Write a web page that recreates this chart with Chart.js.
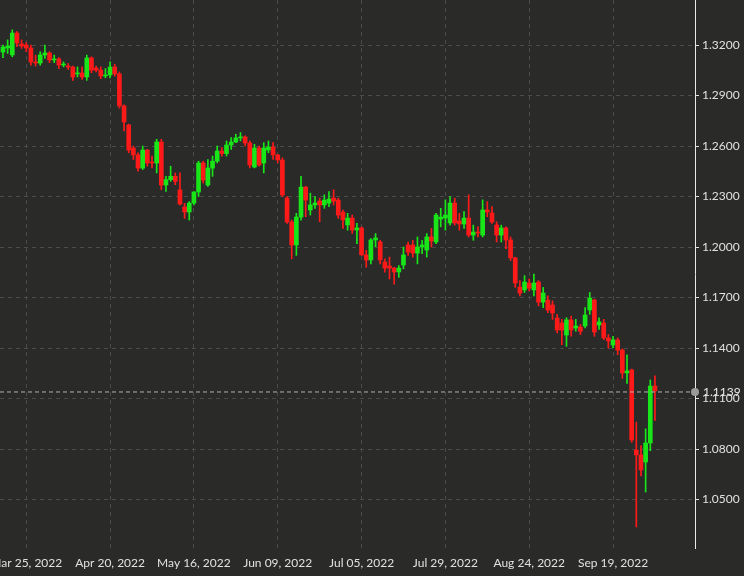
<!DOCTYPE html>
<html>
<head>
<meta charset="utf-8">
<script src="https://cdn.jsdelivr.net/npm/chart.js@4"></script>
<style>
  html, body { margin: 0; padding: 0; background: #2a2b29; }
  #wrap { width: 744px; height: 576px; }
</style>
</head>
<body>
<div id="wrap"><canvas id="chart" width="744" height="576"></canvas></div>
<script>
// GBP/USD daily candles, Mar 18 2022 .. Sep 30 2022 (weekdays)
const open = [1.3158,1.3182,1.3141,1.3271,1.3206,1.3200,1.3182,1.3099,1.3093,1.3141,
  1.3153,1.3111,1.3117,1.3081,1.3075,1.3069,1.3028,1.3034,1.3010,1.3123,
  1.3063,1.3051,1.3016,1.3022,1.3069,1.3028,1.2838,1.2725,1.2588,1.2547,
  1.2469,1.2576,1.2505,1.2499,1.2624,1.2368,1.2400,1.2420,1.2339,1.2238,
  1.2208,1.2261,1.2327,1.2499,1.2368,1.2469,1.2510,1.2570,1.2555,1.2606,
  1.2624,1.2648,1.2654,1.2618,1.2475,1.2588,1.2499,1.2576,1.2594,1.2547,
  1.2517,1.2291,1.2149,1.2012,1.2178,1.2356,1.2220,1.2250,1.2273,1.2250,
  1.2261,1.2291,1.2279,1.2208,1.2131,1.2172,1.2101,1.2113,1.1953,1.1923,
  1.2042,1.2030,1.1911,1.1887,1.1875,1.1852,1.1893,1.2012,1.2012,1.1964,
  1.2000,1.1982,1.2060,1.2030,1.2166,1.2172,1.2143,1.2261,1.2155,1.2137,
  1.2172,1.2071,1.2089,1.2071,1.2220,1.2202,1.2131,1.2071,1.2113,1.2042,
  1.1935,1.1762,1.1745,1.1786,1.1745,1.1792,1.1673,1.1685,1.1656,1.1578,
  1.1549,1.1477,1.1567,1.1519,1.1525,1.1531,1.1626,1.1685,1.1537,1.1549,
  1.1460,1.1418,1.1448,1.1388,1.1252,1.1270,1.0794,1.0765,1.0723,1.0836,
  1.1174];
const high = [1.3200,1.3230,1.3290,1.3280,1.3230,1.3215,1.3200,1.3140,1.3160,1.3200,
  1.3160,1.3140,1.3125,1.3100,1.3090,1.3075,1.3070,1.3070,1.3140,1.3130,
  1.3075,1.3070,1.3060,1.3100,1.3085,1.3040,1.2845,1.2730,1.2600,1.2560,
  1.2600,1.2580,1.2540,1.2640,1.2640,1.2420,1.2480,1.2440,1.2440,1.2260,
  1.2270,1.2330,1.2510,1.2510,1.2520,1.2540,1.2600,1.2590,1.2630,1.2650,
  1.2670,1.2680,1.2660,1.2630,1.2610,1.2600,1.2620,1.2630,1.2620,1.2550,
  1.2530,1.2300,1.2160,1.2200,1.2420,1.2360,1.2320,1.2300,1.2290,1.2310,
  1.2330,1.2340,1.2290,1.2220,1.2200,1.2190,1.2140,1.2120,1.1980,1.2050,
  1.2080,1.2040,1.1930,1.1940,1.1880,1.1890,1.2000,1.2030,1.2040,1.2060,
  1.2040,1.2080,1.2110,1.2200,1.2230,1.2280,1.2300,1.2290,1.2200,1.2210,
  1.2310,1.2130,1.2120,1.2280,1.2270,1.2240,1.2150,1.2130,1.2120,1.2060,
  1.1940,1.1800,1.1830,1.1810,1.1840,1.1800,1.1760,1.1710,1.1680,1.1600,
  1.1570,1.1580,1.1590,1.1570,1.1540,1.1640,1.1730,1.1690,1.1580,1.1570,
  1.1480,1.1470,1.1460,1.1395,1.1360,1.1275,1.0960,1.0820,1.0920,1.1210,
  1.1235];
const low = [1.3125,1.3150,1.3130,1.3190,1.3180,1.3160,1.3080,1.3075,1.3080,1.3120,
  1.3095,1.3095,1.3060,1.3070,1.3055,1.2990,1.3010,1.2995,1.2990,1.3035,
  1.3040,1.3000,1.3005,1.3005,1.3015,1.2825,1.2690,1.2560,1.2520,1.2450,
  1.2460,1.2480,1.2470,1.2440,1.2340,1.2330,1.2390,1.2370,1.2250,1.2170,
  1.2160,1.2250,1.2300,1.2380,1.2360,1.2420,1.2500,1.2540,1.2540,1.2580,
  1.2620,1.2630,1.2600,1.2470,1.2470,1.2480,1.2440,1.2560,1.2520,1.2500,
  1.2300,1.2140,1.1930,1.1950,1.2160,1.2180,1.2190,1.2230,1.2150,1.2230,
  1.2240,1.2250,1.2170,1.2110,1.2100,1.2080,1.2020,1.1950,1.1880,1.1900,
  1.2000,1.1900,1.1850,1.1810,1.1780,1.1820,1.1870,1.1950,1.1940,1.1900,
  1.1960,1.1940,1.2000,1.2020,1.2120,1.2100,1.2130,1.2130,1.2100,1.2110,
  1.2060,1.2040,1.2060,1.2060,1.2180,1.2140,1.2030,1.2030,1.1990,1.1920,
  1.1760,1.1710,1.1730,1.1740,1.1710,1.1650,1.1640,1.1610,1.1570,1.1490,
  1.1420,1.1410,1.1470,1.1500,1.1480,1.1520,1.1600,1.1470,1.1510,1.1450,
  1.1400,1.1400,1.1360,1.1220,1.1190,1.0840,1.0337,1.0640,1.0545,1.0790,
  1.0970];
const close = [1.3188,1.3194,1.3271,1.3212,1.3194,1.3182,1.3099,1.3093,1.3141,1.3153,
  1.3111,1.3117,1.3081,1.3081,1.3069,1.3010,1.3034,1.3010,1.3123,1.3051,
  1.3051,1.3016,1.3022,1.3069,1.3028,1.2838,1.2743,1.2576,1.2547,1.2469,
  1.2576,1.2499,1.2499,1.2624,1.2368,1.2400,1.2420,1.2390,1.2255,1.2208,
  1.2261,1.2327,1.2499,1.2398,1.2469,1.2510,1.2570,1.2555,1.2606,1.2624,
  1.2648,1.2654,1.2618,1.2487,1.2588,1.2487,1.2588,1.2594,1.2547,1.2517,
  1.2309,1.2149,1.2012,1.2178,1.2356,1.2279,1.2250,1.2261,1.2250,1.2279,
  1.2285,1.2273,1.2190,1.2161,1.2172,1.2101,1.2113,1.1953,1.1923,1.2042,
  1.2054,1.1923,1.1875,1.1875,1.1852,1.1875,1.1953,1.1970,1.1964,1.2000,
  1.2012,1.2060,1.2036,1.2190,1.2178,1.2190,1.2261,1.2143,1.2137,1.2172,
  1.2071,1.2089,1.2083,1.2220,1.2208,1.2149,1.2071,1.2113,1.2042,1.1935,
  1.1786,1.1727,1.1792,1.1756,1.1786,1.1673,1.1727,1.1626,1.1608,1.1507,
  1.1507,1.1567,1.1507,1.1531,1.1500,1.1596,1.1697,1.1495,1.1555,1.1460,
  1.1442,1.1448,1.1388,1.1252,1.1264,1.0854,1.0765,1.0676,1.0836,1.1174,
  1.1145];
const yTicks = [1.05, 1.08, 1.11, 1.14, 1.17, 1.20, 1.23, 1.26, 1.29, 1.32];
const labelIdx = [5, 23, 41, 59, 77, 95, 113, 131];
const lastPrice = 1.1139;

// weekday dates starting Fri Mar 18 2022
const months = ['Jan','Feb','Mar','Apr','May','Jun','Jul','Aug','Sep','Oct','Nov','Dec'];
const dates = [];
let d = new Date(2022, 2, 18);
while (dates.length < close.length) {
  if (d.getDay() !== 0 && d.getDay() !== 6) {
    dates.push(months[d.getMonth()] + ' ' + String(d.getDate()).padStart(2, '0') + ', ' + d.getFullYear());
  }
  d.setDate(d.getDate() + 1);
}

const UP = '#19e619', DOWN = '#ff1a1a';
const colors = close.map((c, i) => c >= open[i] ? UP : DOWN);
const FONT = { family: 'Lato', size: 12 };

const priceLine = {
  id: 'priceLine',
  afterDatasetsDraw(chart) {
    const { ctx, chartArea, scales } = chart;
    const y = scales.y.getPixelForValue(lastPrice);
    ctx.save();
    ctx.strokeStyle = '#b0b0b0';
    ctx.setLineDash([4, 3]);
    ctx.lineWidth = 1;
    ctx.beginPath();
    ctx.moveTo(chartArea.left, y);
    ctx.lineTo(chartArea.right, y);
    ctx.stroke();
    ctx.setLineDash([]);
    ctx.fillStyle = '#9a9a9a';
    ctx.beginPath();
    ctx.arc(chartArea.right, y, 4, 0, Math.PI * 2);
    ctx.fill();
    ctx.fillStyle = '#e6e6e6';
    ctx.font = '12px Lato';
    ctx.textBaseline = 'middle';
    ctx.fillText(lastPrice.toFixed(4), chartArea.right + 8, y);
    ctx.restore();
  }
};

new Chart(document.getElementById('chart'), {
  type: 'bar',
  data: {
    datasets: [
      {
        data: close.map((c, i) => ({ x: i, y: [low[i], high[i]] })),
        backgroundColor: colors,
        barThickness: 1,
        grouped: false
      },
      {
        data: close.map((c, i) => ({ x: i, y: [open[i], c] })),
        backgroundColor: colors,
        barThickness: 4,
        minBarLength: 1,
        grouped: false
      }
    ]
  },
  options: {
    responsive: false,
    animation: false,
    layout: { padding: 0 },
    plugins: { legend: { display: false }, tooltip: { enabled: false } },
    scales: {
      x: {
        type: 'linear',
        offset: false,
        min: -0.64,
        max: 148.6,
        afterBuildTicks: s => { s.ticks = labelIdx.map(v => ({ value: v })); },
        afterFit: s => { s.height = 28; s.paddingLeft = 0; s.paddingRight = 0; },
        ticks: {
          color: '#e0e0e0',
          font: FONT,
          maxRotation: 0,
          autoSkip: false,
          padding: 8,
          callback: v => dates[v]
        },
        grid: { color: '#4a4a48', drawTicks: false, offset: false },
        border: { display: false, dash: [4, 4] }
      },
      y: {
        position: 'right',
        min: 1.02122,
        max: 1.34673,
        afterBuildTicks: s => { s.ticks = yTicks.map(v => ({ value: v })); },
        afterFit: s => { s.width = 49; s.paddingTop = 0; s.paddingBottom = 0; },
        ticks: {
          color: '#e0e0e0',
          font: FONT,
          padding: 3,
          callback: v => v.toFixed(4)
        },
        grid: { color: '#4a4a48', tickColor: '#e0e0e0', tickLength: 4 },
        border: { display: true, color: '#e8e8e8', width: 1, dash: [4, 4] }
      }
    }
  },
  plugins: [priceLine]
});
</script>
</body>
</html>
